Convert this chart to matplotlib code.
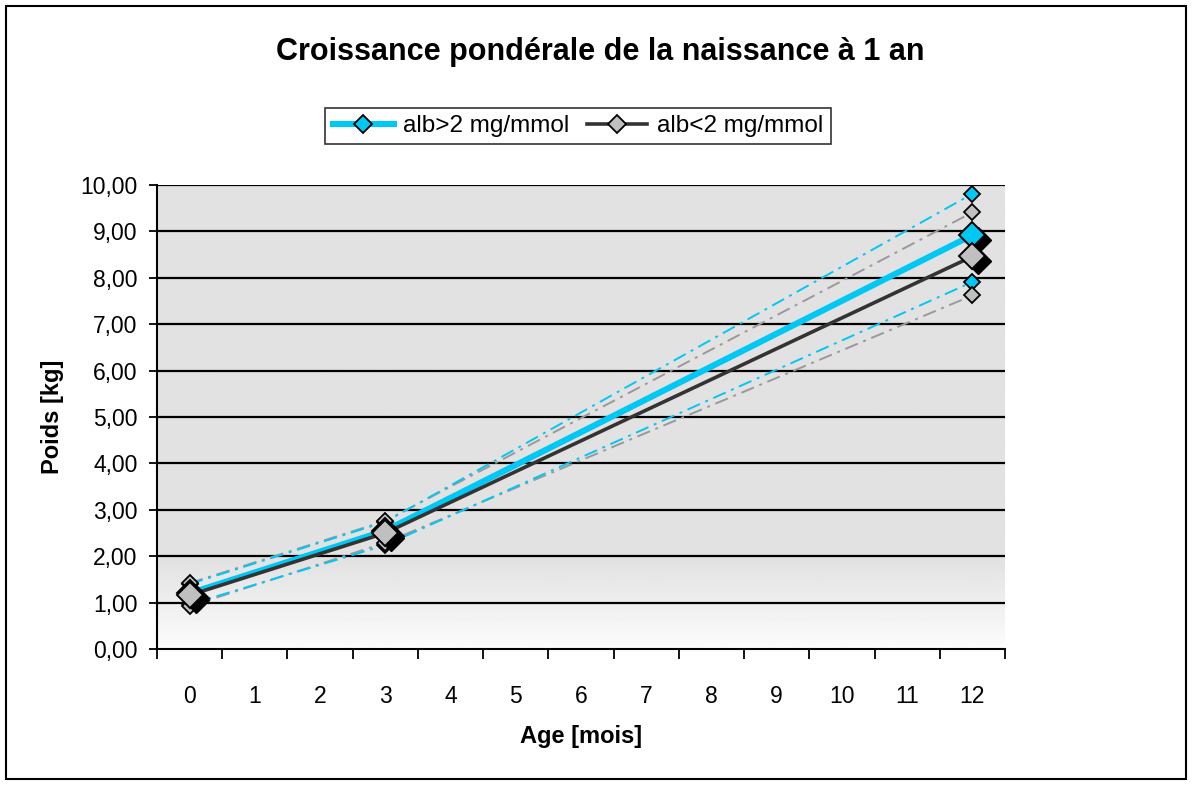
import numpy as np
import matplotlib
matplotlib.use("Agg")
import matplotlib.pyplot as plt
from matplotlib.patches import Rectangle
from matplotlib.lines import Line2D
import matplotlib.transforms as mtransforms

plt.rcParams['font.family'] = ['Liberation Sans', 'DejaVu Sans']

# ---- data ----
months = list(range(13))
x_pts = [0, 3, 12]
alb_hi_mean = [1.20, 2.55, 8.92]
alb_lo_mean = [1.16, 2.50, 8.46]
alb_hi_upper = [1.40, 2.74, 9.81]
alb_hi_lower = [0.96, 2.24, 7.91]
alb_lo_upper = [1.42, 2.76, 9.41]
alb_lo_lower = [0.92, 2.29, 7.62]
y_ticks = [0, 1, 2, 3, 4, 5, 6, 7, 8, 9, 10]

title = "Croissance pondérale de la naissance à 1 an"
series_labels = ["alb>2 mg/mmol", "alb<2 mg/mmol"]

cyan = '#00C8F5'
dark = '#333333'
lgray = '#C0C0C0'
dgray = '#999999'

fig = plt.figure(figsize=(11.92, 7.85), dpi=100)
ax = fig.add_axes([157/1192, 1-649/785, (1005-157)/1192, (649-185)/785])

# gradient background
n = 400
f = np.linspace(0, 1, n)
v = np.where(f > 0.19, 0.885, 0.99 - (0.99-0.885)*(f/0.19))
img = np.tile(v[:, None], (1, 2))
ax.imshow(img, extent=[0, 1, 0, 1], transform=ax.transAxes, origin='lower',
          cmap='gray', vmin=0, vmax=1, aspect='auto', zorder=0)

ax.set_xlim(-0.5, 12.5)
ax.set_ylim(0, 10)

for yv in y_ticks[1:]:
    ax.axhline(yv, color='black', lw=1.6, zorder=1)

# bounds (dash-dot)
dd = (0, (7, 3, 1.5, 3))
ax.plot(x_pts, alb_lo_upper, color=dgray, lw=1.4, ls=dd, zorder=2)
ax.plot(x_pts, alb_lo_lower, color=dgray, lw=1.4, ls=dd, zorder=2)
ax.plot(x_pts, alb_hi_upper, color=cyan, lw=1.4, ls=dd, zorder=2)
ax.plot(x_pts, alb_hi_lower, color=cyan, lw=1.4, ls=dd, zorder=2)

# small markers on bounds
ms_s = 8
ax.plot(x_pts, alb_hi_upper, ls='none', marker='D', ms=ms_s, mfc=cyan, mec='black', mew=1.3, zorder=3)
ax.plot(x_pts, alb_hi_lower, ls='none', marker='D', ms=ms_s, mfc=cyan, mec='black', mew=1.3, zorder=3)
ax.plot(x_pts, alb_lo_upper, ls='none', marker='D', ms=ms_s, mfc=lgray, mec='black', mew=1.3, zorder=3)
ax.plot(x_pts, alb_lo_lower, ls='none', marker='D', ms=ms_s, mfc=lgray, mec='black', mew=1.3, zorder=3)

# main lines
ax.plot(x_pts, alb_hi_mean, color=cyan, lw=4.4, zorder=4, solid_capstyle='butt')
ax.plot(x_pts, alb_lo_mean, color=dark, lw=2.6, zorder=4, solid_capstyle='butt')

# shadows of main markers
ms_b = 13.5
shadow = ax.transData + mtransforms.ScaledTranslation(6/100, -5/100, fig.dpi_scale_trans)
ax.plot(x_pts, alb_hi_mean, ls='none', marker='D', ms=ms_b, mfc='black', mec='black', transform=shadow, zorder=4.5)
ax.plot(x_pts, alb_lo_mean, ls='none', marker='D', ms=ms_b, mfc='black', mec='black', transform=shadow, zorder=4.5)
ax.plot(x_pts, alb_hi_mean, ls='none', marker='D', ms=ms_b, mfc=cyan, mec='black', mew=1.4, zorder=5)
ax.plot(x_pts, alb_lo_mean, ls='none', marker='D', ms=ms_b, mfc=lgray, mec='black', mew=1.4, zorder=6)

# axes styling
for s in ['top', 'right']:
    ax.spines[s].set_visible(False)
for s in ['left', 'bottom']:
    ax.spines[s].set_color('black')
    ax.spines[s].set_linewidth(1.5)
    ax.spines[s].set_zorder(7)

ax.set_yticks(y_ticks)
ax.set_yticklabels([f"{t:.2f}".replace('.', ',') for t in y_ticks], fontsize=16.5)
ax.tick_params(axis='y', length=6, width=1.3, direction='out', pad=8)

ax.set_xticks(np.arange(-0.5, 13, 1))
ax.set_xticklabels([])
ax.tick_params(axis='x', which='major', length=7, width=1.3, direction='out')
ax.set_xticks(months, minor=True)
ax.set_xticklabels([str(m) for m in months], minor=True, fontsize=16.5)
ax.tick_params(axis='x', which='minor', length=0, pad=26)

ax.set_xlabel("Age [mois]", fontsize=17, fontweight='bold', labelpad=12)
ax.set_ylabel("Poids [kg]", fontsize=17, fontweight='bold', labelpad=12)

fig.text(600/1192, 1-52/785, title, fontsize=22, fontweight='bold', ha='center', va='center')

# legend
handles = [Line2D([0], [0], color=cyan, lw=4.4, marker='D', ms=9, mfc=cyan, mec='black', mew=1.3),
           Line2D([0], [0], color=dark, lw=2.6, marker='D', ms=9, mfc=lgray, mec='black', mew=1.3)]
leg = fig.legend(handles, series_labels, loc='center', bbox_to_anchor=(578/1192, 1-126/785),
                 ncol=2, fontsize=17.5, frameon=True, fancybox=False, shadow=False,
                 handlelength=2.5, columnspacing=0.7, handletextpad=0.4, borderpad=0.3)
leg.get_frame().set_edgecolor('black')
leg.get_frame().set_linewidth(1.2)

# figure border
fig.patches.append(Rectangle((6/1192, 6/785), 1-12/1192, 1-12/785, transform=fig.transFigure,
                             fill=False, edgecolor='black', lw=1.5))

fig.savefig('out.png', dpi=100)
